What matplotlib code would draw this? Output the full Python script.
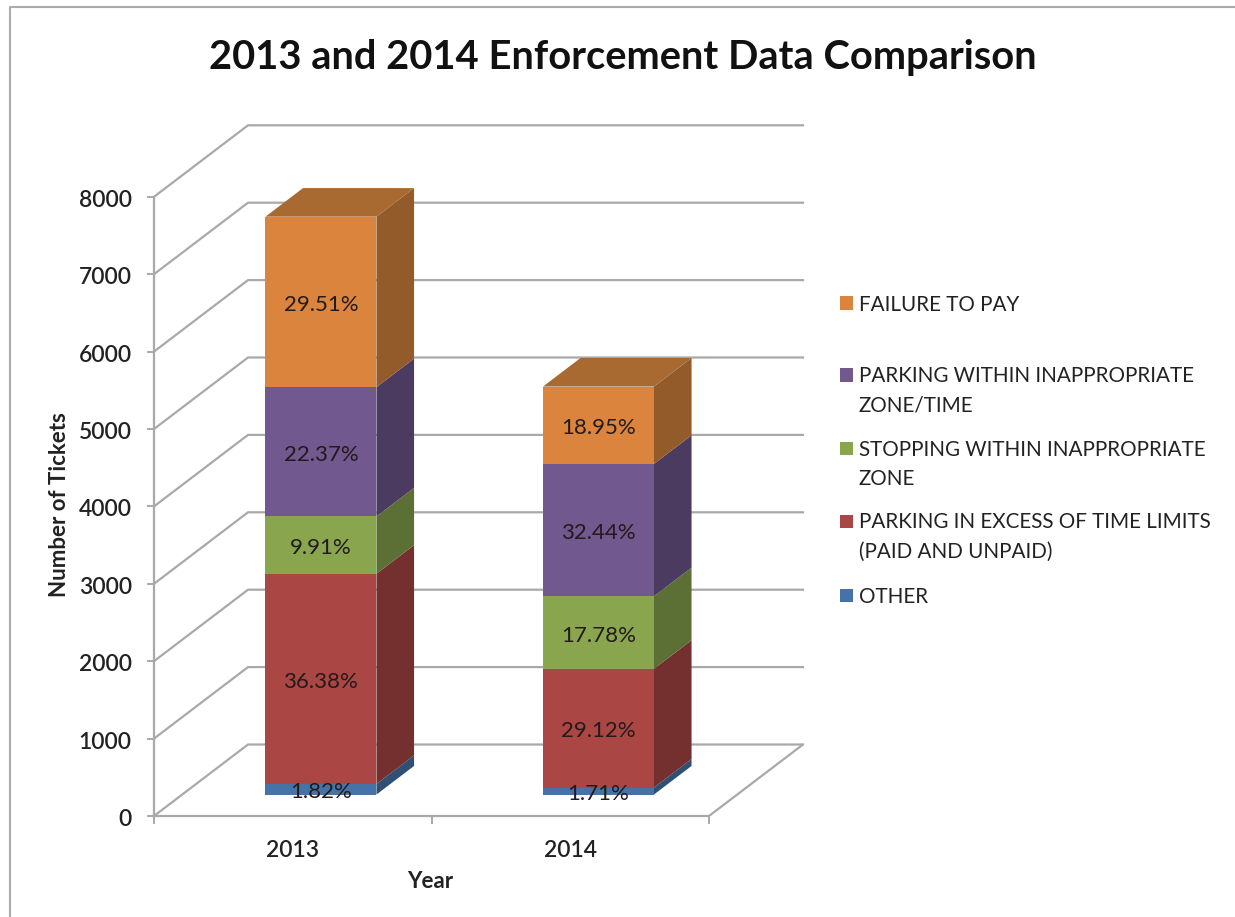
import matplotlib
matplotlib.use("Agg")
import matplotlib.pyplot as plt
from matplotlib.lines import Line2D
from matplotlib.patches import Polygon, Rectangle
from matplotlib.transforms import ScaledTranslation

plt.rcParams['font.family'] = ['Lato', 'DejaVu Sans']

W, H = 1235, 917

years = ["2013", "2014"]
series_names = ["OTHER", "PARKING IN EXCESS OF TIME LIMITS\n(PAID AND UNPAID)",
                "STOPPING WITHIN INAPPROPRIATE\nZONE", "PARKING WITHIN INAPPROPRIATE\nZONE/TIME",
                "FAILURE TO PAY"]
tickets_2013 = [136, 2717, 740, 1670, 2203]
tickets_2014 = [90, 1535, 937, 1710, 999]
share_2013 = ["1.82%", "36.38%", "9.91%", "22.37%", "29.51%"]
share_2014 = ["1.71%", "29.12%", "17.78%", "32.44%", "18.95%"]
y_ticks = [0, 1000, 2000, 3000, 4000, 5000, 6000, 7000, 8000]

front_colors = ["#4573A7", "#AA4643", "#89A54E", "#71588F", "#DB843D"]
side_colors = ["#2F4F74", "#74302E", "#5C7035", "#4B3B60", "#935A2A"]
top_colors = ["#38608C", "#8C3A38", "#70883F", "#5D4876", "#A96A32"]

# floor depth expressed in data units, one category is 277.5 px, 1000 tickets 77.4 px
depth_x = 94 / 277.5
depth_y = 71.5 / 0.0774
bar_width = 0.4
grid_color = "#A9A9A9"


def px_x(x):
    return x / W


def px_y(y):
    return 1 - y / H


def project(x, y, d):
    return (x + d * depth_x, y + d * depth_y)


def draw_bar(ax, center, values, labels):
    left = center - bar_width / 2
    right = center + bar_width / 2
    bottom = 0
    for i, v in enumerate(values):
        top = bottom + v
        # faces go front to back inside the plot box, depth from 0.3 to 0.7
        front = [project(left, bottom, 0.3), project(right, bottom, 0.3),
                 project(right, top, 0.3), project(left, top, 0.3)]
        side = [project(right, bottom, 0.3), project(right, bottom, 0.7),
                project(right, top, 0.7), project(right, top, 0.3)]
        ax.add_patch(Polygon(side, color=side_colors[i], lw=0, zorder=3))
        ax.add_patch(Polygon(front, color=front_colors[i], lw=0, zorder=4))
        if i == len(values) - 1:
            roof = [project(left, top, 0.3), project(right, top, 0.3),
                    project(right, top, 0.7), project(left, top, 0.7)]
            ax.add_patch(Polygon(roof, color=top_colors[i], lw=0, zorder=3))
        ax.annotate(labels[i], project(center, bottom + v / 2, 0.3), xytext=(0, -2.2),
                    textcoords="offset points", ha="center", va="center", fontsize=16,
                    color="#231a1a", zorder=5)
        bottom = top


fig = plt.figure(figsize=(W / 100, H / 100), dpi=100)

# slide border, only the top and left edges show
fig.add_artist(Line2D([px_x(9.5), px_x(9.5), 1], [px_y(917), px_y(6.5), px_y(6.5)],
                      color="#ABABAB", lw=1.5))

# axes box runs from the front floor corner to the far top corner of the walls
ax = fig.add_axes([px_x(154), px_y(816), px_x(803 - 154), (816 - 123) / H])
ax.set_xlim(0, (803 - 154) / 277.5)
ax.set_ylim(0, (816 - 123) / 0.0774)
ax.patch.set_alpha(0)

# walls and floor
for v in y_ticks:
    x0, y0 = project(0, v, 0)
    x1, y1 = project(0, v, 1)
    x2, y2 = project(2, v, 1)
    ax.plot([x0, x1, x2], [y0, y1, y2], color=grid_color, lw=1.6, zorder=1, clip_on=False)
x0, y0 = project(2, 0, 0)
x1, y1 = project(2, 0, 1)
ax.plot([x0, x1], [y0, y1], color=grid_color, lw=1.6, zorder=1)

draw_bar(ax, 0.5, tickets_2013, share_2013)
draw_bar(ax, 1.5, tickets_2014, share_2014)

for name in ["top", "right"]:
    ax.spines[name].set_visible(False)
ax.spines["left"].set_bounds(0, 8000)
ax.spines["bottom"].set_bounds(0, 2)
for name in ["left", "bottom"]:
    ax.spines[name].set_color(grid_color)
    ax.spines[name].set_linewidth(1.6)
    ax.spines[name].set_zorder(2)

ax.set_yticks(y_ticks)
ax.set_xticks([0, 1, 2])
ax.set_xticklabels([])
ax.set_xticks([0.5, 1.5], labels=years, minor=True)
ax.tick_params(axis="y", length=5, width=1.4, color=grid_color, pad=11, labelsize=16.5, labelcolor="#222222")
ax.tick_params(axis="x", which="major", length=6, width=1.4, color=grid_color)
ax.tick_params(axis="x", which="minor", length=0, pad=17, labelsize=16.5, labelcolor="#222222")
for lab in ax.get_yticklabels() + ax.get_xminorticklabels():
    lab.set_fontweight("semibold")
# nudge the value labels down a little against their ticks
nudge = ScaledTranslation(0, -1.5 / 100, fig.dpi_scale_trans)
for lab in ax.get_yticklabels():
    lab.set_transform(lab.get_transform() + nudge)

fig.text(px_x(623), px_y(57), "2013 and 2014 Enforcement Data Comparison", ha="center", va="center",
         fontsize=28.7, fontweight="bold", color="#111111")
fig.text(px_x(60), px_y(505), "Number of Tickets", rotation=90, ha="center", va="center",
         fontsize=16, fontweight="bold", color="#222222")
fig.text(px_x(430), px_y(882), "Year", ha="center", va="center",
         fontsize=16, fontweight="bold", color="#222222")

# legend reads top down, FAILURE TO PAY first
legend_rows = [595, 535, 462.5, 389, 303]
for i, name in enumerate(series_names):
    ym = legend_rows[i]
    box_y = ym - 14 * name.count("\n")
    fig.patches.append(Rectangle((px_x(839.5), px_y(box_y + 6.5)), 13 / W, 13 / H, transform=fig.transFigure,
                                 color=front_colors[i], lw=0))
    fig.text(px_x(859), px_y(ym + 2), name, ha="left", va="center", fontsize=14.85, color="#222222",
             linespacing=1.57)

fig.savefig("out.png", dpi=100)
